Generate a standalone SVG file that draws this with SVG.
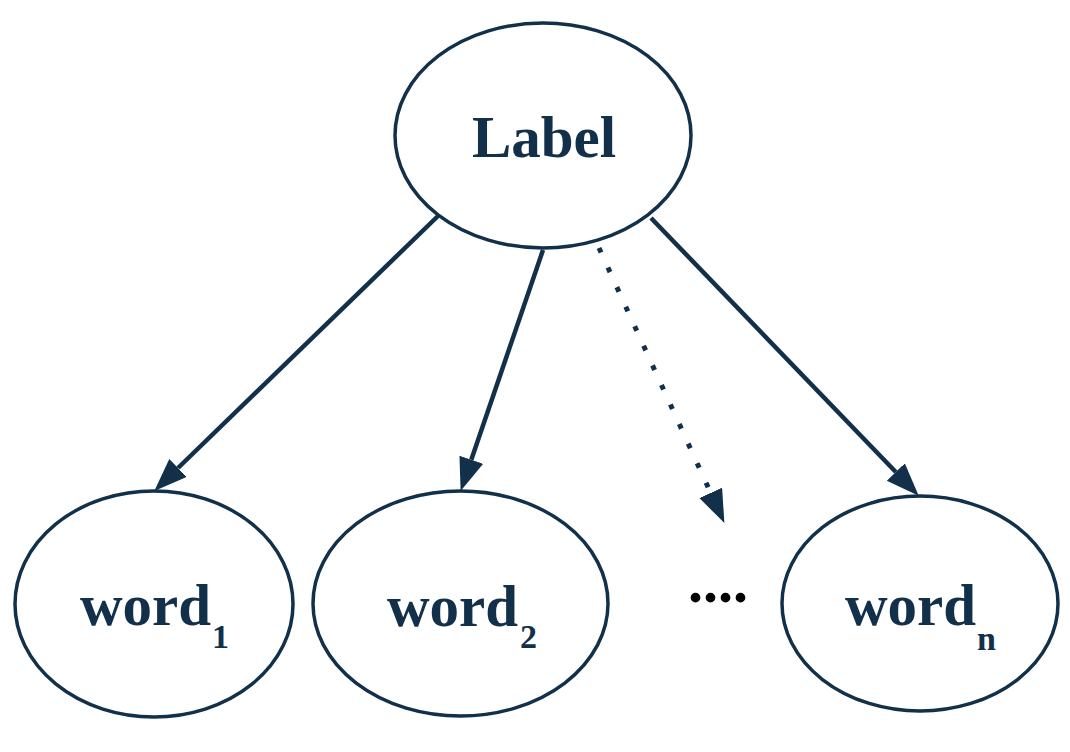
<svg xmlns="http://www.w3.org/2000/svg" width="1070" height="752" viewBox="0 0 1070 752">
  <style>
    .node { fill: #ffffff; stroke: #13304b; stroke-width: 3.5; }
    .lbl { font-family: "Liberation Serif", "Times New Roman", serif; font-weight: bold; fill: #13304b; font-size: 59px; }
    .sub { font-size: 34px; }
    .edge { fill: none; stroke: #13304b; stroke-width: 4.5; }
    .dotted { stroke-width: 5; stroke-dasharray: 5 16.5; }
  </style>
  <defs>
    <marker id="arrow" markerUnits="userSpaceOnUse" markerWidth="34" markerHeight="26" refX="0" refY="12.5" orient="auto">
      <path d="M0,0 L33,12.5 L0,25 Z" fill="#13304b"/>
    </marker>
  </defs>
  <rect width="1070" height="752" fill="#ffffff"/>
  <g id="connectors">
    <path class="edge" d="M438,216 L178,468" marker-end="url(#arrow)"/>
    <path class="edge" d="M543,250 L471.3,459.7" marker-end="url(#arrow)"/>
    <path class="edge dotted" d="M599,248 L710.7,492.9" marker-end="url(#arrow)"/>
    <path class="edge" d="M651,218 L895.8,472" marker-end="url(#arrow)"/>
  </g>
  <g id="node-label">
    <ellipse class="node" cx="543" cy="135.5" rx="148" ry="112.5"/>
    <text class="lbl" x="544" y="157" text-anchor="middle">Label</text>
  </g>
  <g id="node-word1">
    <ellipse class="node" cx="154" cy="604" rx="139" ry="113"/>
    <text class="lbl" x="80" y="625">word<tspan class="sub" dx="1" dy="23">1</tspan></text>
  </g>
  <g id="node-word2">
    <ellipse class="node" cx="460.5" cy="603.5" rx="147.5" ry="112.5"/>
    <text class="lbl" x="387" y="626">word<tspan class="sub" dx="2" dy="22">2</tspan></text>
  </g>
  <g id="node-ellipsis">
    <text x="688" y="602" font-family="Liberation Serif, serif" font-weight="bold" font-size="60" fill="#000000">....</text>
  </g>
  <g id="node-wordn">
    <ellipse class="node" cx="920" cy="603.5" rx="138" ry="107.5"/>
    <text class="lbl" x="845" y="625">word<tspan class="sub" dx="1" dy="25">n</tspan></text>
  </g>
</svg>
